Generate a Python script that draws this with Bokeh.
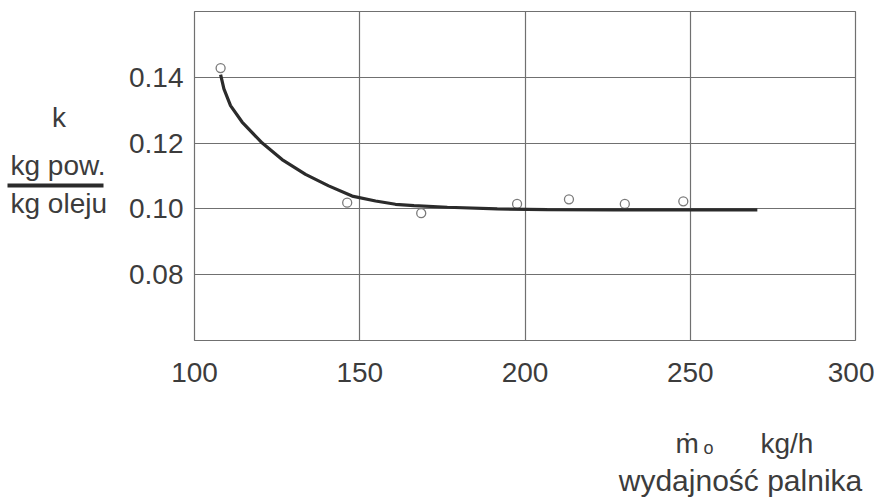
from bokeh.plotting import figure
from bokeh.layouts import column, row
from bokeh.models import Range1d, FixedTicker, PrintfTickFormatter, ColumnDataSource
from bokeh.core.properties import value
from bokeh.embed import file_html
from bokeh.resources import INLINE

# Data
x_ticks = [100, 150, 200, 250, 300]
y_ticks = [0.08, 0.10, 0.12, 0.14]

pts_x = [107.9, 146.2, 168.6, 197.6, 213.3, 230.2, 247.9]
pts_y = [0.1428, 0.1019, 0.0987, 0.1015, 0.1029, 0.1015, 0.1023]

curve_x = [107.9, 108.9, 110.9, 114.4, 120.5, 126.5, 133.6, 140.6, 147.7, 154.8,
           160.8, 166.4, 176.5, 191.6, 206.7, 226.9, 250.0, 270.3]
curve_y = [0.1408, 0.1365, 0.1314, 0.1264, 0.1200, 0.1150, 0.1105, 0.1070, 0.1039, 0.1024,
           0.1014, 0.1010, 0.1005, 0.1000, 0.0998, 0.0997, 0.0997, 0.0997]

FONT = "Liberation Sans"
TXT = "#3c3c3c"
GRID = "#707070"

W, H = 874, 499
LEFT_W, TOP_H = 120, 400
SHIFT = 10  # text glyph renders ~10px below its alphabetic baseline in this backend


def blank(width, height):
    f = figure(width=width, height=height, output_backend="svg", toolbar_location=None,
               x_range=Range1d(0, width), y_range=Range1d(height, 0),
               x_axis_location=None, y_axis_location=None, min_border=0,
               frame_align=False)
    f.grid.visible = False
    f.outline_line_color = None
    return f


def txt(f, x, y, t, size="28px", align="left"):
    f.text(x=[x], y=[y - SHIFT], text=[t], text_font=value(FONT), text_font_size=value(size),
           text_color=TXT, text_align=align, text_baseline="alphabetic")


# main chart
p = figure(width=W - LEFT_W, height=TOP_H, output_backend="svg", toolbar_location=None,
           x_range=Range1d(100, 300), y_range=Range1d(0.06, 0.16),
           min_border_left=74, min_border_right=19, min_border_top=11,
           min_border_bottom=60, frame_align=False)

p.outline_line_color = GRID
p.outline_line_width = 1.2

for ax in (p.xaxis[0], p.yaxis[0]):
    ax.axis_line_color = None
    ax.major_tick_line_color = None
    ax.minor_tick_line_color = None
    ax.major_tick_out = 0
    ax.major_tick_in = 0
    ax.major_label_text_font = FONT
    ax.major_label_text_font_size = "28px"
    ax.major_label_text_color = TXT

p.xaxis[0].ticker = FixedTicker(ticks=x_ticks)
p.yaxis[0].ticker = FixedTicker(ticks=y_ticks)
p.yaxis[0].formatter = PrintfTickFormatter(format="%.2f")
p.xaxis[0].major_label_standoff = 22
p.yaxis[0].major_label_standoff = 11

p.xgrid[0].ticker = FixedTicker(ticks=x_ticks)
p.ygrid[0].ticker = FixedTicker(ticks=y_ticks)
for g in (p.xgrid[0], p.ygrid[0]):
    g.grid_line_color = GRID
    g.grid_line_width = 1.2

src_pts = ColumnDataSource(dict(x=pts_x, y=pts_y))
src_curve = ColumnDataSource(dict(x=curve_x, y=curve_y))

p.scatter("x", "y", source=src_pts, marker="circle", size=9,
          fill_color="white", line_color="#7a7a7a", line_width=1.3)
p.line("x", "y", source=src_curve, line_color="#2b2b2b", line_width=3.2)

# y-axis unit block (left panel, pixel coordinates)
left = blank(LEFT_W, TOP_H)
txt(left, 58.5, 127, "k", align="center")
txt(left, 10, 175, "kg pow.")
left.segment(x0=[7], y0=[185], x1=[103], y1=[185], line_color="#2b2b2b", line_width=4)
txt(left, 10, 213, "kg oleju")

# x-axis unit block (bottom panel, pixel coordinates)
bottom = blank(W, H - TOP_H)
txt(bottom, 675, 53, "ṁ")
txt(bottom, 703, 57, "o", size="18px")
txt(bottom, 760, 53, "kg/h")
txt(bottom, 740, 90, "wydajność palnika", size="30px", align="center")

layout = column(row(left, p, spacing=0), bottom, spacing=0)

open("out.html", "w").write(file_html(layout, INLINE))
